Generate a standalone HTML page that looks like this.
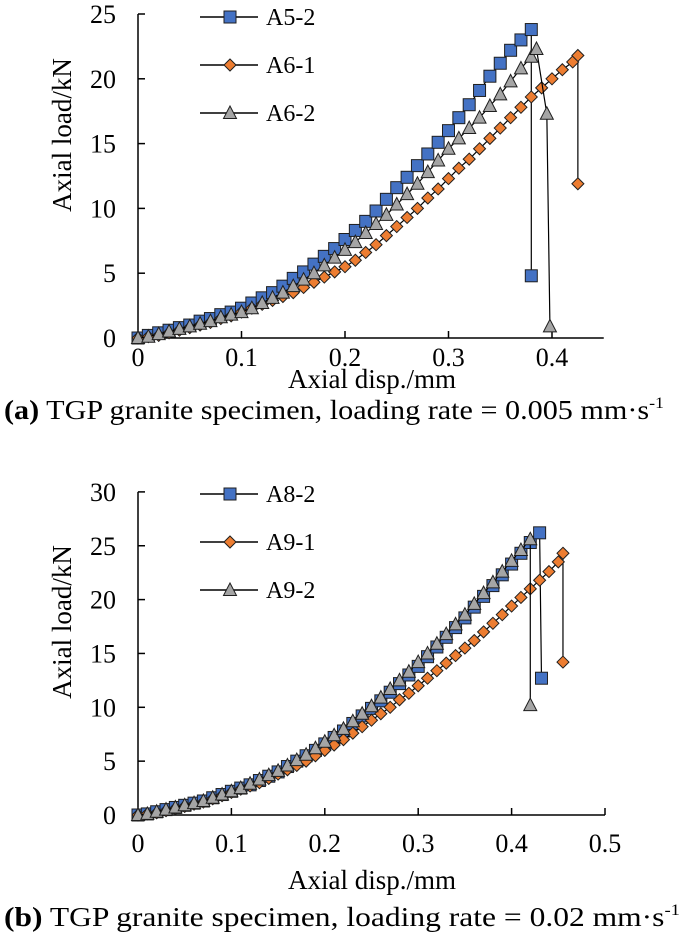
<!DOCTYPE html>
<html><head><meta charset="utf-8">
<style>
body{margin:0;background:#fff;}
svg{display:block;}
text{font-family:"Liberation Serif","Times New Roman",serif;}
</style></head>
<body>
<svg id="c" width="685" height="941" viewBox="0 0 685 941" xmlns="http://www.w3.org/2000/svg"></svg>
<script>
// ---- Chart (a) data ----
const xsA52=[0,0.01,0.02,0.03,0.04,0.05,0.06,0.07,0.08,0.09,0.10,0.11,0.12,0.13,0.14,0.15,0.16,0.17,0.18,0.19,0.20,0.21,0.22,0.23,0.24,0.25,0.26,0.27,0.28,0.29,0.30,0.31,0.32,0.33,0.34,0.35,0.36,0.37,0.38,0.38];
const ysA52=[0,0.2,0.4,0.6,0.8,1.0,1.3,1.5,1.8,2.0,2.3,2.7,3.1,3.5,4.0,4.6,5.1,5.7,6.3,6.9,7.6,8.3,9.0,9.8,10.7,11.6,12.4,13.3,14.2,15.1,16.0,17.0,18.0,19.1,20.2,21.2,22.2,23.0,23.8,4.8];
const xsA61=[0,0.01,0.02,0.03,0.04,0.05,0.06,0.07,0.08,0.09,0.10,0.11,0.12,0.13,0.14,0.15,0.16,0.17,0.18,0.19,0.20,0.21,0.22,0.23,0.24,0.25,0.26,0.27,0.28,0.29,0.30,0.31,0.32,0.33,0.34,0.35,0.36,0.37,0.38,0.39,0.40,0.41,0.42,0.425,0.425];
const ysA61=[0,0.1,0.2,0.4,0.6,0.8,1.0,1.2,1.5,1.7,2.0,2.3,2.6,2.9,3.2,3.5,3.9,4.3,4.7,5.1,5.5,6.0,6.6,7.2,7.9,8.6,9.3,10.0,10.8,11.5,12.3,13.1,13.8,14.6,15.4,16.2,17.0,17.8,18.6,19.3,20.0,20.7,21.3,21.8,11.9];
const xsA62=[0,0.01,0.02,0.03,0.04,0.05,0.06,0.07,0.08,0.09,0.10,0.11,0.12,0.13,0.14,0.15,0.16,0.17,0.18,0.19,0.20,0.21,0.22,0.23,0.24,0.25,0.26,0.27,0.28,0.29,0.30,0.31,0.32,0.33,0.34,0.35,0.36,0.37,0.38,0.385,0.395,0.398];
const ysA62=[0,0.1,0.3,0.5,0.7,0.9,1.1,1.3,1.6,1.8,2.0,2.3,2.7,3.1,3.5,4.0,4.5,5.0,5.6,6.2,6.8,7.4,8.1,8.8,9.5,10.3,11.1,11.9,12.8,13.7,14.6,15.4,16.2,17.0,17.9,18.8,19.8,20.8,21.7,22.3,17.3,0.9];
const xTicksA=[0,0.1,0.2,0.3,0.4];
const yTicksA=[0,5,10,15,20,25];
// ---- Chart (b) data ----
const xsA82=[0,0.01,0.02,0.03,0.04,0.05,0.06,0.07,0.08,0.09,0.10,0.11,0.12,0.13,0.14,0.15,0.16,0.17,0.18,0.19,0.20,0.21,0.22,0.23,0.24,0.25,0.26,0.27,0.28,0.29,0.30,0.31,0.32,0.33,0.34,0.35,0.36,0.37,0.38,0.39,0.40,0.41,0.42,0.43,0.432];
const ysA82=[0,0.1,0.3,0.5,0.7,0.9,1.1,1.3,1.6,1.9,2.2,2.5,2.8,3.2,3.6,4.0,4.5,5.0,5.5,6.0,6.6,7.2,7.8,8.5,9.2,9.9,10.6,11.4,12.2,13.0,13.8,14.7,15.6,16.5,17.4,18.3,19.3,20.3,21.3,22.3,23.3,24.3,25.3,26.2,12.7];
const xsA91=[0,0.01,0.02,0.03,0.04,0.05,0.06,0.07,0.08,0.09,0.10,0.11,0.12,0.13,0.14,0.15,0.16,0.17,0.18,0.19,0.20,0.21,0.22,0.23,0.24,0.25,0.26,0.27,0.28,0.29,0.30,0.31,0.32,0.33,0.34,0.35,0.36,0.37,0.38,0.39,0.40,0.41,0.42,0.43,0.44,0.45,0.455,0.455];
const ysA91=[0,0.1,0.2,0.4,0.6,0.8,1.0,1.2,1.5,1.8,2.1,2.4,2.7,3.0,3.4,3.8,4.2,4.6,5.0,5.5,6.0,6.5,7.0,7.6,8.2,8.8,9.4,10.0,10.7,11.3,12.0,12.7,13.4,14.1,14.8,15.5,16.2,17.0,17.8,18.6,19.4,20.2,21.0,21.8,22.6,23.5,24.3,14.2];
const xsA92=[0,0.01,0.02,0.03,0.04,0.05,0.06,0.07,0.08,0.09,0.10,0.11,0.12,0.13,0.14,0.15,0.16,0.17,0.18,0.19,0.20,0.21,0.22,0.23,0.24,0.25,0.26,0.27,0.28,0.29,0.30,0.31,0.32,0.33,0.34,0.35,0.36,0.37,0.38,0.39,0.40,0.41,0.42,0.42];
const ysA92=[0,0.1,0.3,0.5,0.7,0.9,1.1,1.3,1.6,1.9,2.2,2.5,2.9,3.3,3.7,4.1,4.6,5.1,5.6,6.2,6.8,7.4,8.0,8.7,9.4,10.1,10.9,11.7,12.5,13.3,14.2,15.0,15.9,16.8,17.7,18.6,19.6,20.6,21.6,22.6,23.6,24.6,25.6,10.2];
const xTicksB=[0,0.1,0.2,0.3,0.4,0.5];
const yTicksB=[0,5,10,15,20,25,30];

const svg=document.getElementById('c');
const NS='http://www.w3.org/2000/svg';
const FF='Liberation Serif, Times New Roman, serif';
function mk(tag,attrs,parent){const e=document.createElementNS(NS,tag);for(const k in attrs)e.setAttribute(k,attrs[k]);(parent||svg).appendChild(e);return e;}

function marker(g,type,cx,cy){
  let e;
  if(type==='sq'){e=mk('rect',{x:cx-6,y:cy-6,width:12,height:12,fill:'#4472c4',stroke:'#1f1f1f','stroke-width':1},g);}
  else if(type==='di'){e=mk('polygon',{points:`${cx},${cy-6} ${cx+6},${cy} ${cx},${cy+6} ${cx-6},${cy}`,fill:'#ed7d31',stroke:'#1f1f1f','stroke-width':1},g);}
  else {e=mk('polygon',{points:`${cx},${cy-7} ${cx+6.5},${cy+5.5} ${cx-6.5},${cy+5.5}`,fill:'#a5a5a5',stroke:'#1f1f1f','stroke-width':1},g);}
  return e;
}

function chart(cfg){
  const g=mk('g',{});
  
  
  const X=v=>cfg.x0+v*cfg.kx, Y=v=>cfg.y0-v*cfg.ky;
  const ya=mk('line',{x1:cfg.x0,y1:Y(cfg.yTicks[cfg.yTicks.length-1]),x2:cfg.x0,y2:cfg.y0,stroke:'#000','stroke-width':1.5},g);
  
  const xa=mk('line',{x1:cfg.x0,y1:cfg.y0,x2:X(cfg.xMax),y2:cfg.y0,stroke:'#000','stroke-width':1.5},g);
  
  cfg.yTicks.forEach(t=>{
    mk('line',{x1:cfg.x0,y1:Y(t),x2:cfg.x0+7,y2:Y(t),stroke:'#000','stroke-width':1.5},g);
    const tx=mk('text',{x:cfg.x0-22,y:Y(t)+9,'text-anchor':'end','font-size':26,'font-family':FF},g);
    tx.textContent=t;
    
  });
  cfg.xTicks.forEach(t=>{
    if(t>0)mk('line',{x1:X(t),y1:cfg.y0,x2:X(t),y2:cfg.y0-7,stroke:'#000','stroke-width':1.5},g);
    const tx=mk('text',{x:X(t),y:cfg.y0+cfg.tickDy,'text-anchor':'middle','font-size':26,'font-family':FF},g);
    tx.textContent=t;
    
  });
  cfg.series.forEach(s=>{
    const sg=mk('g',{},g);
    
    
    const pts=s.xs.map((x,i)=>X(x)+','+Y(s.ys[i])).join(' ');
    mk('polyline',{points:pts,fill:'none',stroke:'#000','stroke-width':1.2},sg);
    s.xs.forEach((x,i)=>{const m=marker(sg,s.type,X(x),Y(s.ys[i]));
      
      });
  });
  cfg.series.forEach((s,i)=>{
    const ly=cfg.legY+i*48;
    const lg=mk('g',{},g);
    
    
    mk('line',{x1:200,y1:ly,x2:258,y2:ly,stroke:'#000','stroke-width':1.5},lg);
    marker(lg,s.type,230,ly);
    const t=mk('text',{x:266,y:ly+8,'font-size':24,'font-family':FF},lg);t.textContent=s.label;
  });
  const yt=mk('text',{x:0,y:0,'text-anchor':'middle','font-size':27,'font-family':FF,transform:`translate(${cfg.ytx},${cfg.yty}) rotate(-90)`},g);
  yt.textContent='Axial load/kN';
  
  const xt=mk('text',{x:cfg.xtx,y:cfg.xty,'text-anchor':'middle','font-size':27,'font-family':FF},g);
  xt.textContent='Axial disp./mm';
  
}

chart({name:'chart-a',x0:138,y0:338,kx:1035,ky:12.96,xMax:0.45,xTicks:xTicksA,yTicks:yTicksA,legY:17,ytx:71,yty:135,xtx:372,xty:388,tickDy:28,
  series:[{label:'A5-2',type:'sq',xs:xsA52,ys:ysA52},{label:'A6-1',type:'di',xs:xsA61,ys:ysA61},{label:'A6-2',type:'tr',xs:xsA62,ys:ysA62}]});
chart({name:'chart-b',x0:138,y0:815,kx:934,ky:10.77,xMax:0.5,xTicks:xTicksB,yTicks:yTicksB,legY:494,ytx:71,yty:622,xtx:372,xty:889,tickDy:37,
  series:[{label:'A8-2',type:'sq',xs:xsA82,ys:ysA82},{label:'A9-1',type:'di',xs:xsA91,ys:ysA91},{label:'A9-2',type:'tr',xs:xsA92,ys:ysA92}]});
</script>
<svg style="position:absolute;left:0;top:0" width="685" height="941">
<text x="4" y="419" font-family="Liberation Serif, Times New Roman, serif" font-size="27" textLength="660" lengthAdjust="spacingAndGlyphs"><tspan font-weight="bold">(a)</tspan> TGP granite specimen, loading rate = 0.005 mm·s<tspan font-size="16" dy="-11">-1</tspan></text>
<text x="4" y="926" font-family="Liberation Serif, Times New Roman, serif" font-size="27" textLength="676" lengthAdjust="spacingAndGlyphs"><tspan font-weight="bold">(b)</tspan> TGP granite specimen, loading rate = 0.02 mm·s<tspan font-size="16" dy="-11">-1</tspan></text>
</svg>
</body></html>
